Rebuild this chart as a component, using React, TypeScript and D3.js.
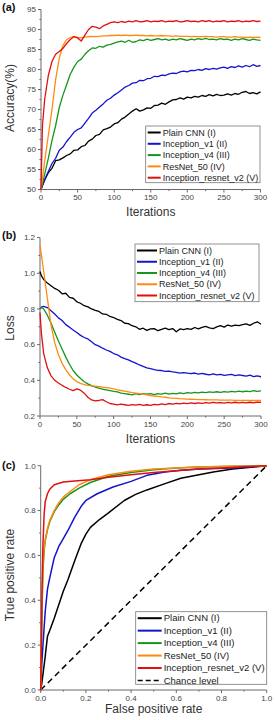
import React from "react";
import * as d3 from "d3";

const FONT = "'Liberation Sans', Arial, sans-serif";

const SERIES_NAMES = ["Plain CNN (I)", "Inception_v1 (II)", "Inception_v4 (III)", "ResNet_50 (IV)", "Inception_resnet_v2 (V)"];
const SERIES_COLORS = ["#000000", "#1414cc", "#17951c", "#ff8a10", "#e01010"];

const ITER = [0, 2, 5, 10, 15, 20, 25, 30, 35, 40, 45, 50, 55, 60, 65, 70, 75, 80, 85, 90, 95, 100, 105, 110, 115, 120, 125, 130, 135, 140, 145, 150, 155, 160, 165, 170, 175, 180, 185, 190, 195, 200, 205, 210, 215, 220, 225, 230, 235, 240, 245, 250, 255, 260, 265, 270, 275, 280, 285, 290, 295, 300];

// (a) accuracy (%)
const ACC_CNN = [50, 51, 52.3, 54.2, 55.3, 57.2, 57.4, 57.9, 58.5, 58.9, 59.8, 59.9, 60.7, 61.0, 62.1, 62.6, 63.5, 63.8, 64.9, 65.2, 65.6, 66.4, 66.7, 67.6, 68.1, 68.9, 69.6, 70.2, 69.6, 69.9, 70.4, 70.3, 71.0, 71.1, 71.6, 71.3, 71.9, 72.4, 72.5, 72.9, 72.6, 73.1, 72.9, 73.3, 73.1, 73.5, 73.3, 73.7, 73.4, 73.8, 73.5, 73.6, 73.9, 73.6, 74.0, 73.8, 74.3, 74.5, 74.0, 74.2, 73.9, 74.4];
const ACC_V1 = [50, 51, 52.5, 54.5, 56.5, 57.8, 59.8, 60.6, 62.0, 63.1, 64.3, 65.0, 65.4, 66.6, 67.8, 69.1, 69.8, 70.6, 71.4, 72.3, 72.8, 73.6, 74.2, 74.9, 75.6, 76.0, 76.6, 76.7, 77.3, 77.2, 77.7, 77.8, 78.3, 78.2, 78.6, 78.5, 78.9, 79.1, 79.0, 79.4, 79.6, 79.4, 79.8, 79.7, 80.0, 79.8, 80.2, 80.0, 80.3, 80.1, 80.4, 80.6, 80.3, 80.7, 80.5, 80.9, 80.6, 81.0, 80.7, 81.2, 80.8, 81.0];
const ACC_V4 = [50, 51.5, 53.8, 57.8, 62.2, 66.0, 70.5, 73.6, 76.2, 78.8, 80.6, 82.0, 82.6, 83.8, 84.7, 85.4, 85.3, 85.8, 85.6, 86.1, 86.3, 86.6, 86.9, 87.1, 86.8, 87.3, 86.8, 87.0, 87.4, 87.2, 87.6, 87.3, 87.5, 87.7, 87.4, 87.6, 87.3, 87.6, 87.4, 87.7, 87.5, 87.3, 87.6, 87.4, 87.7, 87.5, 87.8, 87.5, 87.6, 87.4, 87.7, 87.5, 87.6, 87.3, 87.6, 87.4, 87.7, 87.5, 87.3, 87.6, 87.4, 87.3];
const ACC_RES = [50, 52.8, 57, 63.5, 70, 77.5, 82.8, 86, 87.5, 88, 88.3, 88, 87.9, 88.1, 88.2, 88.3, 88.2, 88.3, 88.4, 88.4, 88.5, 88.5, 88.6, 88.5, 88.6, 88.5, 88.5, 88.6, 88.5, 88.5, 88.4, 88.5, 88.4, 88.4, 88.5, 88.4, 88.4, 88.3, 88.4, 88.3, 88.3, 88.3, 88.2, 88.3, 88.2, 88.2, 88.3, 88.2, 88.2, 88.1, 88.2, 88.2, 88.1, 88.1, 88.2, 88.1, 88.1, 88.0, 88.1, 88.0, 88.1, 88.0];
const ACC_IRV2 = [50, 66, 72.5, 78.5, 82, 83.8, 84.5, 85.3, 86.5, 87.5, 88.2, 87.9, 87.1, 88.6, 90.0, 90.8, 90.6, 90.2, 90.9, 91.3, 91.7, 91.9, 91.7, 92.0, 91.8, 92.1, 91.9, 92.2, 91.9, 92.0, 92.2, 91.9, 92.1, 92.0, 92.2, 91.9, 92.1, 92.0, 92.2, 91.9, 92.0, 92.2, 92.0, 92.1, 91.9, 92.2, 92.0, 92.2, 91.9, 92.1, 92.0, 92.2, 91.9, 92.1, 92.0, 92.2, 91.9, 92.1, 92.0, 92.2, 92.0, 92.1];

// (b) loss
const LOSS_CNN = [1.01, 0.985, 0.965, 0.945, 0.93, 0.915, 0.905, 0.885, 0.888, 0.865, 0.86, 0.84, 0.832, 0.818, 0.812, 0.80, 0.792, 0.786, 0.772, 0.77, 0.758, 0.752, 0.742, 0.735, 0.72, 0.718, 0.706, 0.70, 0.686, 0.692, 0.68, 0.688, 0.69, 0.678, 0.686, 0.692, 0.684, 0.69, 0.672, 0.688, 0.684, 0.69, 0.686, 0.696, 0.688, 0.697, 0.702, 0.694, 0.69, 0.70, 0.706, 0.698, 0.71, 0.704, 0.71, 0.706, 0.712, 0.716, 0.708, 0.72, 0.728, 0.714];
const LOSS_V1 = [0.80, 0.81, 0.815, 0.808, 0.79, 0.772, 0.75, 0.735, 0.712, 0.698, 0.682, 0.668, 0.652, 0.64, 0.632, 0.616, 0.60, 0.592, 0.58, 0.57, 0.562, 0.55, 0.543, 0.53, 0.522, 0.515, 0.505, 0.496, 0.486, 0.478, 0.47, 0.466, 0.46, 0.456, 0.455, 0.45, 0.452, 0.447, 0.445, 0.44, 0.443, 0.44, 0.437, 0.441, 0.435, 0.439, 0.434, 0.431, 0.436, 0.43, 0.433, 0.428, 0.431, 0.433, 0.426, 0.43, 0.427, 0.424, 0.429, 0.421, 0.425, 0.42];
const LOSS_V4 = [0.80, 0.81, 0.80, 0.765, 0.72, 0.67, 0.62, 0.575, 0.53, 0.49, 0.455, 0.43, 0.41, 0.392, 0.38, 0.37, 0.362, 0.356, 0.35, 0.346, 0.342, 0.338, 0.335, 0.328, 0.325, 0.322, 0.318, 0.325, 0.32, 0.326, 0.322, 0.325, 0.32, 0.326, 0.323, 0.328, 0.322, 0.327, 0.324, 0.33, 0.326, 0.331, 0.328, 0.333, 0.329, 0.334, 0.331, 0.335, 0.332, 0.336, 0.333, 0.337, 0.334, 0.338, 0.335, 0.339, 0.336, 0.34, 0.337, 0.342, 0.338, 0.341];
const LOSS_RES = [1.155, 1.10, 1.01, 0.86, 0.71, 0.61, 0.545, 0.495, 0.46, 0.43, 0.408, 0.393, 0.383, 0.376, 0.372, 0.369, 0.367, 0.365, 0.362, 0.359, 0.356, 0.352, 0.347, 0.343, 0.339, 0.335, 0.331, 0.328, 0.325, 0.322, 0.318, 0.315, 0.312, 0.31, 0.307, 0.305, 0.302, 0.30, 0.299, 0.297, 0.296, 0.295, 0.294, 0.293, 0.292, 0.292, 0.291, 0.29, 0.29, 0.29, 0.289, 0.289, 0.289, 0.289, 0.288, 0.288, 0.288, 0.288, 0.287, 0.287, 0.287, 0.287];
const LOSS_IRV2 = [0.78, 0.66, 0.55, 0.47, 0.425, 0.40, 0.385, 0.372, 0.36, 0.35, 0.342, 0.352, 0.345, 0.328, 0.305, 0.29, 0.285, 0.287, 0.292, 0.28, 0.27, 0.266, 0.262, 0.266, 0.263, 0.26, 0.264, 0.261, 0.265, 0.26, 0.263, 0.259, 0.265, 0.262, 0.268, 0.264, 0.27, 0.266, 0.271, 0.268, 0.272, 0.269, 0.273, 0.27, 0.274, 0.271, 0.275, 0.272, 0.276, 0.273, 0.275, 0.272, 0.276, 0.273, 0.277, 0.274, 0.276, 0.273, 0.277, 0.274, 0.278, 0.276];

// (c) ROC
const FPR_CNN = [0, 0.005, 0.01, 0.02, 0.03, 0.04, 0.06, 0.08, 0.1, 0.12, 0.15, 0.18, 0.2, 0.22, 0.26, 0.3, 0.37, 0.42, 0.47, 0.55, 0.62, 0.7, 0.77, 0.85, 0.92, 1];
const TPR_CNN = [0, 0.03, 0.07, 0.15, 0.24, 0.265, 0.32, 0.38, 0.44, 0.49, 0.575, 0.655, 0.695, 0.725, 0.76, 0.79, 0.845, 0.872, 0.892, 0.92, 0.944, 0.96, 0.973, 0.985, 0.992, 1];
const FPR_V1 = [0, 0.005, 0.01, 0.02, 0.03, 0.04, 0.06, 0.08, 0.1, 0.12, 0.15, 0.18, 0.2, 0.25, 0.32, 0.4, 0.47, 0.55, 0.62, 0.7, 0.85, 1];
const TPR_V1 = [0, 0.12, 0.2, 0.35, 0.45, 0.5, 0.59, 0.64, 0.675, 0.71, 0.77, 0.82, 0.845, 0.875, 0.905, 0.93, 0.957, 0.972, 0.98, 0.985, 0.99, 1];
const FPR_V4 = [0, 0.002, 0.005, 0.01, 0.015, 0.02, 0.03, 0.04, 0.06, 0.08, 0.1, 0.13, 0.17, 0.22, 0.3, 0.4, 0.5, 0.6, 0.7, 0.85, 1];
const TPR_V4 = [0, 0.14, 0.33, 0.53, 0.62, 0.665, 0.715, 0.75, 0.795, 0.825, 0.85, 0.875, 0.9, 0.925, 0.953, 0.97, 0.982, 0.99, 0.994, 0.997, 1];
const FPR_RES = [0, 0.002, 0.005, 0.01, 0.015, 0.02, 0.03, 0.04, 0.06, 0.08, 0.1, 0.13, 0.17, 0.22, 0.3, 0.4, 0.5, 0.6, 0.7, 0.85, 1];
const TPR_RES = [0, 0.15, 0.35, 0.55, 0.63, 0.67, 0.72, 0.755, 0.8, 0.835, 0.86, 0.885, 0.915, 0.937, 0.96, 0.975, 0.985, 0.99, 0.994, 0.997, 1];
const FPR_IRV2 = [0, 0.003, 0.006, 0.01, 0.015, 0.02, 0.03, 0.04, 0.06, 0.1, 0.15, 0.22, 0.3, 0.4, 0.5, 0.6, 0.7, 0.8, 0.9, 1];
const TPR_IRV2 = [0, 0.2, 0.45, 0.65, 0.78, 0.84, 0.875, 0.895, 0.915, 0.927, 0.932, 0.937, 0.948, 0.96, 0.97, 0.978, 0.985, 0.99, 0.995, 1];
const CHANCE = [0, 1];

const ACC_TICKS = [50, 55, 60, 65, 70, 75, 80, 85, 90, 95];
const ITER_TICKS = [0, 50, 100, 150, 200, 250, 300];
const LOSS_TICKS = [0.2, 0.4, 0.6, 0.8, 1.0, 1.2];
const RATE_TICKS = [0, 0.2, 0.4, 0.6, 0.8, 1.0];

type Scale = d3.ScaleLinear<number, number>;

function Axes(props: {
  x: Scale; y: Scale; xTicks: number[]; yTicks: number[]; xMinor: number[]; yMinor: number[];
  xFmt: (v: number) => string; yFmt: (v: number) => string; xTitle: string; yTitle: string;
  xTitleY: number; yTitleCx: number; label: string; labelY: number;
}) {
  const { x, y } = props;
  const [x0, x1] = x.range();
  const [y0, y1] = y.range();
  const ac = "#6a6a6a";
  return (
    <g>
      <line x1={x0} x2={x1} y1={y0} y2={y0} stroke={ac} strokeWidth={1} />
      <line x1={x0} x2={x0} y1={y0} y2={y1} stroke={ac} strokeWidth={1} />
      {props.xTicks.map((t) => (
        <g key={"xt" + t}>
          <line x1={x(t)} x2={x(t)} y1={y0} y2={y0 + 3} stroke={ac} />
          <text x={x(t)} y={y0 + 10.5} textAnchor="middle" fontSize={8} fill="#444" fontFamily={FONT}>{props.xFmt(t)}</text>
        </g>
      ))}
      {props.xMinor.map((t) => (
        <line key={"xm" + t} x1={x(t)} x2={x(t)} y1={y0} y2={y0 + 1.6} stroke={ac} />
      ))}
      {props.yTicks.map((t) => (
        <g key={"yt" + t}>
          <line x1={x0 - 3} x2={x0} y1={y(t)} y2={y(t)} stroke={ac} />
          <text x={x0 - 5} y={y(t) + 2.8} textAnchor="end" fontSize={8} fill="#444" fontFamily={FONT}>{props.yFmt(t)}</text>
        </g>
      ))}
      {props.yMinor.map((t) => (
        <line key={"ym" + t} x1={x0 - 1.6} x2={x0} y1={y(t)} y2={y(t)} stroke={ac} />
      ))}
      <text x={(x0 + x1) / 2} y={props.xTitleY} textAnchor="middle" fontSize={12} fill="#333" fontFamily={FONT}>{props.xTitle}</text>
      <text transform={`translate(14,${props.yTitleCx}) rotate(-90)`} textAnchor="middle" fontSize={12} fill="#333" fontFamily={FONT}>{props.yTitle}</text>
      <text x={2} y={props.labelY} fontSize={11} fontWeight="bold" fill="#111" fontFamily={FONT}>{props.label}</text>
    </g>
  );
}

function Legend(props: { x: number; y: number; w: number; h: number; rowH: number; lineW: number; fontSize: number; dashed?: boolean }) {
  const names = props.dashed ? [...SERIES_NAMES, "Chance level"] : SERIES_NAMES;
  return (
    <g>
      <rect x={props.x} y={props.y} width={props.w} height={props.h} fill="#fff" stroke="#777" strokeWidth={0.8} />
      {names.map((n, i) => {
        const cy = props.y + 6.5 + i * props.rowH;
        const isChance = i >= SERIES_NAMES.length;
        return (
          <g key={n}>
            <line x1={props.x + 2} x2={props.x + 2 + props.lineW} y1={cy} y2={cy}
              stroke={isChance ? "#000" : SERIES_COLORS[i]} strokeWidth={isChance ? 1.6 : 2}
              strokeDasharray={isChance ? "5,3" : undefined} />
            <text x={props.x + 4 + props.lineW} y={cy + 3.2} fontSize={props.fontSize} fill="#222" fontFamily={FONT}>{n}</text>
          </g>
        );
      })}
    </g>
  );
}

function range(a: number, b: number, s: number, skip: number) {
  const out: number[] = [];
  for (let v = a; v <= b + 1e-9; v += s) {
    const r = Math.round(v * 1000) / 1000;
    if (Math.abs((r / skip) - Math.round(r / skip)) > 1e-6) out.push(r);
  }
  return out;
}

export default function App() {
  const xa = d3.scaleLinear().domain([0, 300]).range([41, 260.5]);
  const ya = d3.scaleLinear().domain([50, 95]).range([189.5, 9.5]);
  const xb = d3.scaleLinear().domain([0, 300]).range([40, 261]);
  const yb = d3.scaleLinear().domain([0.2, 1.2]).range([416, 237.6]);
  const xc = d3.scaleLinear().domain([0, 1]).range([40.7, 266.7]);
  const yc = d3.scaleLinear().domain([0, 1]).range([690, 465.7]);

  const accSeries = [ACC_CNN, ACC_V1, ACC_V4, ACC_RES, ACC_IRV2];
  const lossSeries = [LOSS_CNN, LOSS_V1, LOSS_V4, LOSS_RES, LOSS_IRV2];
  const roc = [[FPR_CNN, TPR_CNN], [FPR_V1, TPR_V1], [FPR_V4, TPR_V4], [FPR_RES, TPR_RES], [FPR_IRV2, TPR_IRV2]];

  const lineA = d3.line<number>().x((_, i) => xa(ITER[i])).y((d) => ya(d));
  const lineB = d3.line<number>().x((_, i) => xb(ITER[i])).y((d) => yb(d));

  const f1 = (v: number) => v.toFixed(1);
  const f0 = (v: number) => String(v);

  return (
    <svg width={275} height={720} style={{ position: "absolute", left: 0, top: 0, display: "block" }}>
      <rect width={275} height={720} fill="#fff" />
      {/* (a) */}
      <Axes x={xa} y={ya} xTicks={ITER_TICKS} yTicks={ACC_TICKS} xMinor={range(0, 300, 25, 50)} yMinor={range(50, 95, 2.5, 5)}
        xFmt={f0} yFmt={f0} xTitle="Iterations" yTitle="Accuracy(%)" xTitleY={215.5} yTitleCx={98} label="(a)" labelY={11} />
      {accSeries.map((s, i) => (
        <path key={"a" + i} d={lineA(s) || ""} fill="none" stroke={SERIES_COLORS[i]} strokeWidth={1.3} strokeLinejoin="round" />
      ))}
      <Legend x={145.7} y={126} w={114.3} h={56.7} rowH={11.3} lineW={13} fontSize={9} />

      {/* (b) */}
      <Axes x={xb} y={yb} xTicks={ITER_TICKS} yTicks={LOSS_TICKS} xMinor={range(0, 300, 25, 50)} yMinor={range(0.2, 1.2, 0.1, 0.2)}
        xFmt={f0} yFmt={f1} xTitle="Iterations" yTitle="Loss" xTitleY={443} yTitleCx={328} label="(b)" labelY={238.5} />
      {lossSeries.map((s, i) => (
        <path key={"b" + i} d={lineB(s) || ""} fill="none" stroke={SERIES_COLORS[i]} strokeWidth={1.3} strokeLinejoin="round" />
      ))}
      <Legend x={135} y={244} w={124} h={57.7} rowH={11.25} lineW={20} fontSize={9} />

      {/* (c) */}
      <Axes x={xc} y={yc} xTicks={RATE_TICKS} yTicks={RATE_TICKS} xMinor={range(0, 1, 0.1, 0.2)} yMinor={range(0, 1, 0.1, 0.2)}
        xFmt={f1} yFmt={f1} xTitle="False positive rate" yTitle="True positive rate" xTitleY={713} yTitleCx={575} label="(c)" labelY={468.5} />
      <path d={d3.line<number>().x((d) => xc(d)).y((d) => yc(d))(CHANCE) || ""} fill="none" stroke="#000" strokeWidth={1.5} strokeDasharray="6,4" />
      {roc.map(([fx, ty], i) => (
        <path key={"c" + i} d={d3.line<number>().x((d) => xc(d)).y((_, j) => yc(ty[j]))(fx) || ""} fill="none" stroke={SERIES_COLORS[i]} strokeWidth={1.5} strokeLinejoin="round" />
      ))}
      <Legend x={135.7} y={611.7} w={131} h={72.6} rowH={12.45} lineW={24} fontSize={9.5} dashed />
    </svg>
  );
}
